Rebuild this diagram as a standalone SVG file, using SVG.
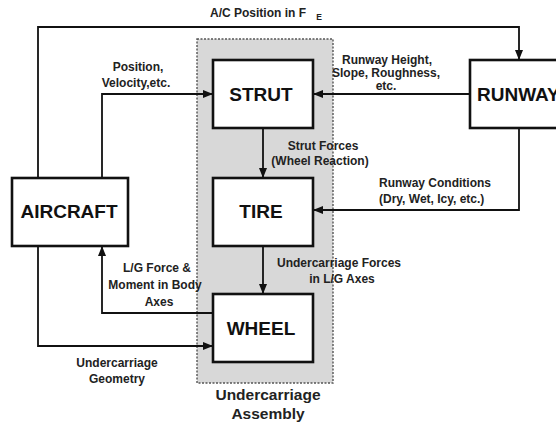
<svg xmlns="http://www.w3.org/2000/svg" width="556" height="427" viewBox="0 0 556 427">
<style>
.box{fill:#fff;stroke:#111;stroke-width:2.6}
.node{font-family:"Liberation Sans",Arial,sans-serif;font-weight:bold;font-size:19px;fill:#111;text-anchor:middle}
.lbl{font-family:"Liberation Sans",Arial,sans-serif;font-weight:bold;font-size:12px;fill:#222;text-anchor:middle}
.ln{fill:none;stroke:#111;stroke-width:1.8}
</style>
<defs>
<marker id="ah" viewBox="0 0 10 8" refX="10" refY="4" markerWidth="10" markerHeight="8" markerUnits="userSpaceOnUse" orient="auto">
<path d="M0,0 L10,4 L0,8 Z" fill="#111"/>
</marker>
</defs>
<rect width="556" height="427" fill="#fff"/>
<g id="assembly">
<rect x="197" y="39" width="136" height="344" fill="#d8d8d8" stroke="#555" stroke-width="1.4" stroke-dasharray="2,1.5"/>
<text x="268" y="400" font-family="'Liberation Sans',Arial,sans-serif" font-weight="bold" font-size="15.5" fill="#222" text-anchor="middle">Undercarriage</text>
<text x="268" y="419" font-family="'Liberation Sans',Arial,sans-serif" font-weight="bold" font-size="15.5" fill="#222" text-anchor="middle">Assembly</text>
</g>
<g id="connectors">
<polyline class="ln" points="38,178 38,27 519,27 519,60" marker-end="url(#ah)"/>
<polyline class="ln" points="102,178 102,94 213,94" marker-end="url(#ah)"/>
<polyline class="ln" points="470,94 313,94" marker-end="url(#ah)"/>
<polyline class="ln" points="263,128 263,178" marker-end="url(#ah)"/>
<polyline class="ln" points="263,246 263,294" marker-end="url(#ah)"/>
<polyline class="ln" points="519,128 519,210 313,210" marker-end="url(#ah)"/>
<polyline class="ln" points="213,313 102,313 102,246" marker-end="url(#ah)"/>
<polyline class="ln" points="38,246 38,346 213,346" marker-end="url(#ah)"/>
</g>
<g id="strut"><rect class="box" x="213" y="60" width="100" height="68"/><text class="node" x="261" y="101">STRUT</text></g>
<g id="tire"><rect class="box" x="213" y="178" width="100" height="68"/><text class="node" x="261" y="218">TIRE</text></g>
<g id="wheel"><rect class="box" x="213" y="294" width="100" height="68"/><text class="node" x="261" y="335">WHEEL</text></g>
<g id="aircraft"><rect class="box" x="12" y="178" width="116" height="68"/><text class="node" x="69" y="218">AIRCRAFT</text></g>
<g id="runway"><rect class="box" x="470" y="60" width="100" height="68"/><text class="node" x="477" y="101" style="text-anchor:start">RUNWAY</text></g>
<g id="labels">
<text class="lbl" x="258" y="17">A/C Position in F</text>
<text class="lbl" x="319" y="20" style="font-size:8.5px">E</text>
<text class="lbl" x="138" y="71">Position,</text>
<text class="lbl" x="136" y="87">Velocity,etc.</text>
<text class="lbl" x="387" y="64">Runway Height,</text>
<text class="lbl" x="386" y="77">Slope, Roughness,</text>
<text class="lbl" x="386" y="90">etc.</text>
<text class="lbl" x="323" y="150">Strut Forces</text>
<text class="lbl" x="320" y="165">(Wheel Reaction)</text>
<text class="lbl" x="379" y="187" style="text-anchor:start">Runway Conditions</text>
<text class="lbl" x="379" y="203" style="text-anchor:start">(Dry, Wet, Icy, etc.)</text>
<text class="lbl" x="157" y="272">L/G Force &amp;</text>
<text class="lbl" x="155" y="289">Moment in Body</text>
<text class="lbl" x="159" y="306">Axes</text>
<text class="lbl" x="339" y="267">Undercarriage Forces</text>
<text class="lbl" x="342" y="283">in L/G Axes</text>
<text class="lbl" x="117" y="367">Undercarriage</text>
<text class="lbl" x="117" y="383">Geometry</text>
</g>
</svg>
